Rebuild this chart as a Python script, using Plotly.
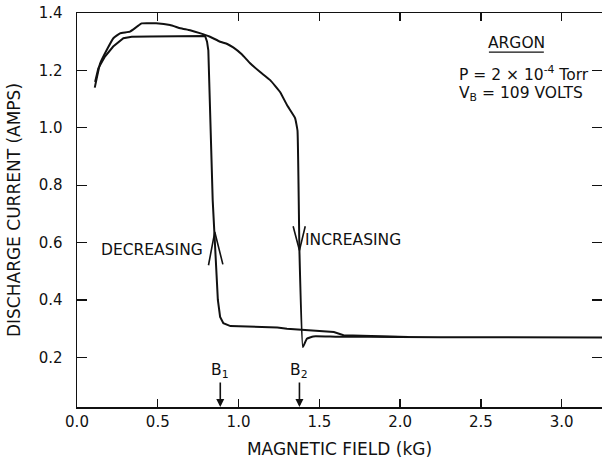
import plotly.graph_objects as go

# --- data ---
inc_field = [0.11, 0.143, 0.184, 0.225, 0.266, 0.328, 0.37, 0.40, 0.49, 0.576, 0.64, 0.70,
             0.76, 0.82, 0.886, 0.93, 0.967, 1.02, 1.07, 1.134, 1.196, 1.258, 1.30, 1.35,
             1.365, 1.377, 1.398, 1.423, 1.463, 1.6, 2.0, 2.5, 3.25]
inc_current = [1.14, 1.224, 1.271, 1.312, 1.329, 1.335, 1.352, 1.364, 1.364, 1.358, 1.347, 1.34,
               1.33, 1.318, 1.30, 1.292, 1.28, 1.256, 1.226, 1.194, 1.166, 1.124, 1.079, 1.034,
               0.99, 0.57, 0.236, 0.265, 0.273, 0.272, 0.271, 0.270, 0.269]

dec_field = [2.05, 1.65, 1.59, 1.505, 1.423, 1.30, 1.24, 0.95, 0.906, 0.886, 0.872, 0.855,
             0.846, 0.84, 0.813, 0.805, 0.793, 0.6, 0.45, 0.339, 0.287, 0.224, 0.173, 0.132, 0.112]
dec_current = [0.271, 0.277, 0.288, 0.291, 0.294, 0.30, 0.304, 0.309, 0.319, 0.341, 0.40, 0.573,
               0.654, 0.748, 1.27, 1.30, 1.32, 1.32, 1.318, 1.317, 1.312, 1.283, 1.248, 1.207, 1.16]

dec_arrow_x = [0.814, 0.853, 0.903]
dec_arrow_y = [0.521, 0.637, 0.524]
inc_arrow_x = [1.338, 1.377, 1.413]
inc_arrow_y = [0.657, 0.573, 0.657]

x_ticks = [0.0, 0.5, 1.0, 1.5, 2.0, 2.5, 3.0]
x_tick_labels = ["0.0", "0.5", "1.0", "1.5", "2.0", "2.5", "3.0"]
y_ticks = [0.2, 0.4, 0.6, 0.8, 1.0, 1.2, 1.4]
y_tick_labels = ["0.2", "0.4", "0.6", "0.8", "1.0", "1.2", "1.4"]

B1 = 0.887
B2 = 1.377

X_RANGE = [0.0, 3.25]
Y_RANGE = [0.027, 1.4]

FONT = "DejaVu Sans"
INK = "#111111"

fig = go.Figure()
line_style = dict(color=INK, width=2)
fig.add_trace(go.Scatter(x=inc_field, y=inc_current, mode="lines",
                         line=dict(color=INK, width=2, shape="spline", smoothing=0.3),
                         showlegend=False, hoverinfo="skip"))
fig.add_trace(go.Scatter(x=dec_field, y=dec_current, mode="lines", line=line_style,
                         showlegend=False, hoverinfo="skip"))
fig.add_trace(go.Scatter(x=dec_arrow_x, y=dec_arrow_y, mode="lines",
                         line=dict(color=INK, width=1.6), showlegend=False, hoverinfo="skip"))
fig.add_trace(go.Scatter(x=inc_arrow_x, y=inc_arrow_y, mode="lines",
                         line=dict(color=INK, width=1.6), showlegend=False, hoverinfo="skip"))

tfont = dict(family=FONT, size=15.5, color=INK)
ann = []
ann.append(dict(x=0.793, y=0.575, xref="x", yref="y", text="DECREASING", showarrow=False,
                xanchor="right", yanchor="middle", font=tfont))
ann.append(dict(x=1.40, y=0.608, xref="x", yref="y", text="INCREASING", showarrow=False,
                xanchor="left", yanchor="middle", font=tfont))
ann.append(dict(x=2.72, y=1.295, xref="x", yref="y", text="ARGON", showarrow=False,
                xanchor="center", yanchor="middle", font=tfont))
ann.append(dict(x=2.354, y=1.19, xref="x", yref="y",
                text="P = 2 × 10<sup>-4</sup> Torr", showarrow=False,
                xanchor="left", yanchor="middle", font=tfont))
ann.append(dict(x=2.354, y=1.118, xref="x", yref="y",
                text="V<sub>B</sub> = 109 VOLTS", showarrow=False,
                xanchor="left", yanchor="middle", font=tfont))
# B1 / B2 markers (label with arrow pointing to the field axis)
for bx, lab in [(B1, "B<sub>1</sub>"), (B2, "B<sub>2</sub>")]:
    ann.append(dict(x=bx, y=Y_RANGE[0], xref="x", yref="y", text=lab, showarrow=True,
                    ax=0, ay=-36, arrowhead=2, arrowsize=1, arrowwidth=1.6,
                    arrowcolor=INK, standoff=0, font=tfont))

fig.update_layout(
    width=602, height=461,
    margin=dict(l=77, r=0, t=13, b=54),
    paper_bgcolor="white", plot_bgcolor="white",
    font=dict(family=FONT, color=INK),
    annotations=ann,
    shapes=[dict(type="line", xref="x", yref="y", x0=2.55, x1=2.89, y0=1.264, y1=1.264,
                 line=dict(color=INK, width=1.2))],
    xaxis=dict(range=X_RANGE, tickvals=x_ticks, ticktext=x_tick_labels,
               ticks="inside", ticklen=8, tickwidth=1.3, tickcolor=INK,
               showline=True, linecolor=INK, linewidth=1.5, mirror="ticks",
               showgrid=False, zeroline=False, automargin=False,
               tickfont=dict(family=FONT, size=15, color=INK),
               title=dict(text="MAGNETIC FIELD (kG)", font=dict(family=FONT, size=17, color=INK),
                          standoff=13)),
    yaxis=dict(range=Y_RANGE, tickvals=y_ticks, ticktext=y_tick_labels,
               ticks="inside", ticklen=10, tickwidth=1.3, tickcolor=INK,
               showline=True, linecolor=INK, linewidth=1.5, mirror="ticks",
               showgrid=False, zeroline=False, automargin=False,
               tickfont=dict(family=FONT, size=15, color=INK),
               ticklabelstandoff=10,
               title=dict(text="DISCHARGE CURRENT (AMPS)", font=dict(family=FONT, size=17, color=INK),
                          standoff=13)),
)

fig.write_html("out.html",
               config={"displayModeBar": False, "staticPlot": True},
               post_script="document.body.style.margin='0px';document.body.style.overflow='hidden';")
